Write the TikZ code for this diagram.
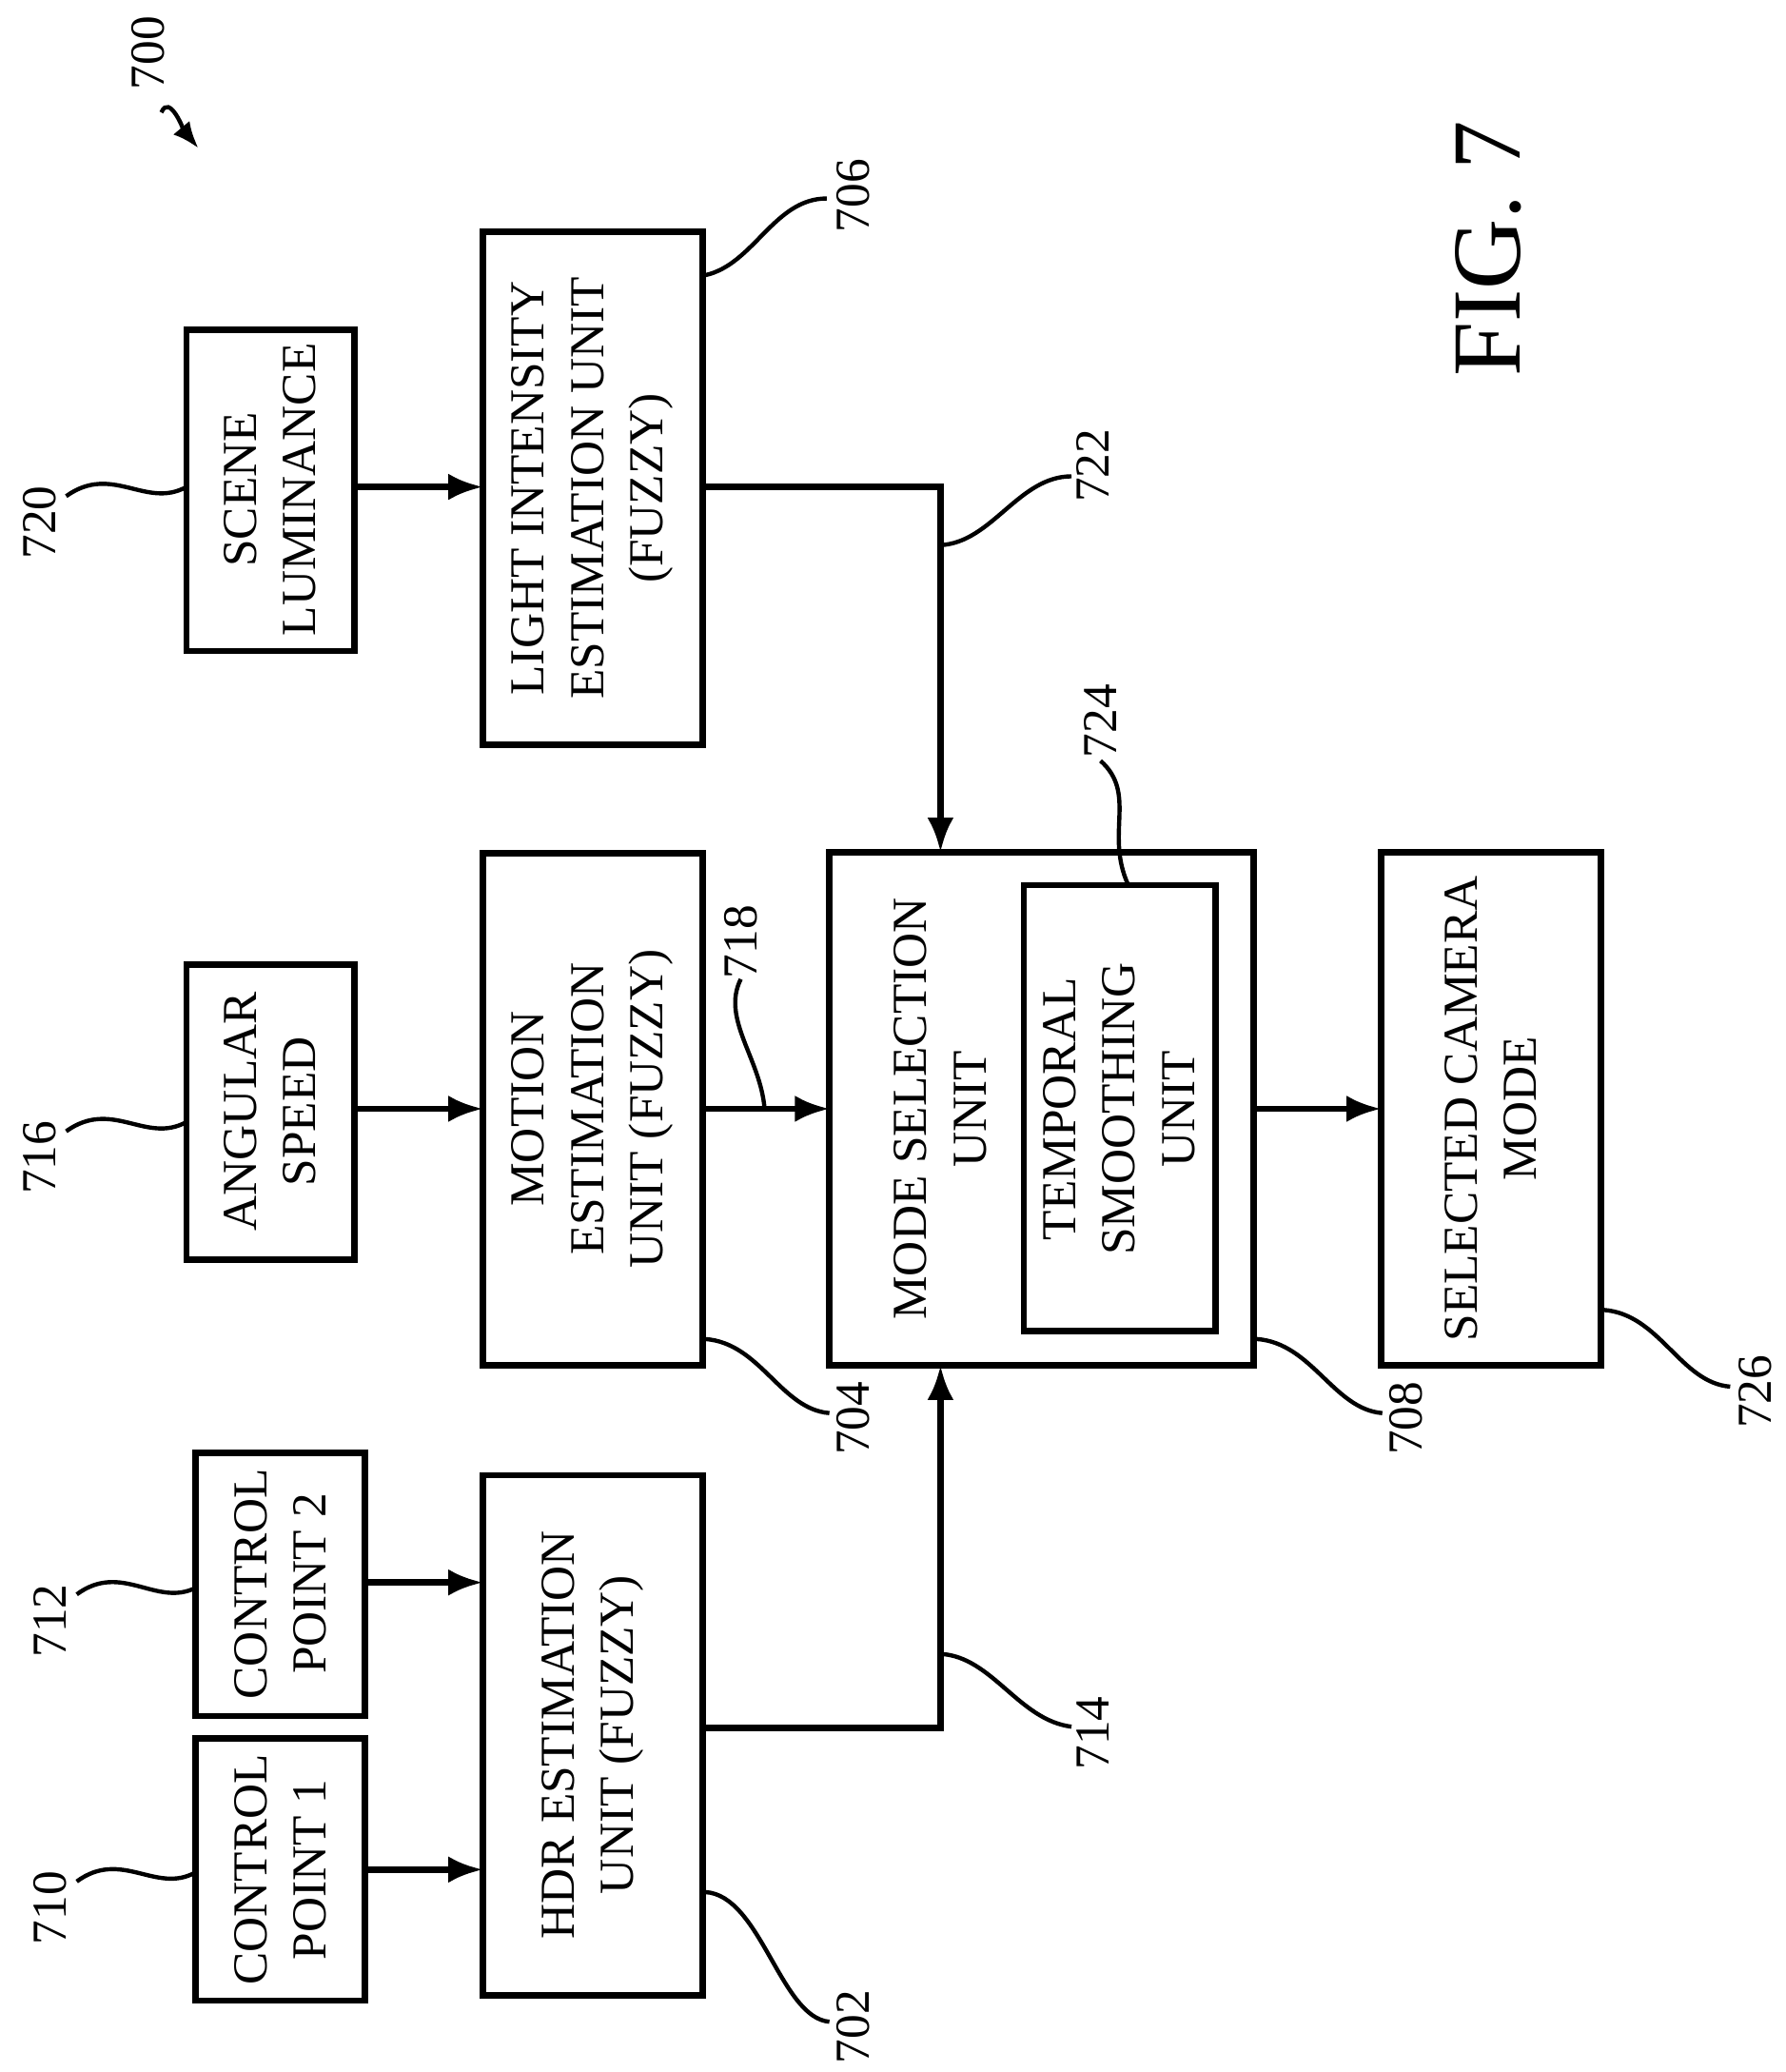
\documentclass[tikz,border=0pt]{standalone}
\usepackage{fontspec}
\setmainfont{Liberation Serif}
\usetikzlibrary{arrows.meta}
\tikzset{
  blk/.style={draw,line width=1.4pt,inner sep=0pt},
  txt/.style={rotate=90,align=center,font=\fontsize{10.5}{12.8}\selectfont},
  num/.style={rotate=90,font=\fontsize{10.5}{12}\selectfont},
  flow/.style={line width=1.3pt,-{Latex[length=2.6mm,width=2mm]}},
  lead/.style={line width=0.9pt}
}
\begin{document}
\begin{tikzpicture}[x=0.01cm,y=-0.01cm]
\useasboundingbox (0,0) rectangle (1350,1566);

% boxes
\draw[blk] (141,249) rectangle (268,492);
\node[txt] (scene) at (204,370) {SCENE\\LUMINANCE};
\draw[blk] (365,175) rectangle (531,563);
\node[txt] (light) at (448,369) {LIGHT INTENSITY\\ESTIMATION UNIT\\(FUZZY)};
\draw[blk] (141,729) rectangle (268,952);
\node[txt] (ang) at (204,840) {ANGULAR\\SPEED};
\draw[blk] (365,645) rectangle (531,1032);
\node[txt] (motion) at (448,838) {MOTION\\ESTIMATION\\UNIT (FUZZY)};
\draw[blk] (148,1098) rectangle (276,1297);
\node[txt] (cp2) at (212,1197) {CONTROL\\POINT 2};
\draw[blk] (148,1314) rectangle (276,1512);
\node[txt] (cp1) at (212,1413) {CONTROL\\POINT 1};
\draw[blk] (365,1115) rectangle (531,1508);
\node[txt] (hdr) at (448,1311) {HDR ESTIMATION\\UNIT (FUZZY)};
\draw[blk] (627,644) rectangle (948,1032);
\node[txt] (mode) at (711,838) {MODE SELECTION\\UNIT};
\draw[blk] (774,669) rectangle (919,1006);
\node[txt] (temp) at (846,838) {TEMPORAL\\SMOOTHING\\UNIT};
\draw[blk] (1044,644) rectangle (1210,1032);
\node[txt] (sel) at (1127,838) {SELECTED CAMERA\\MODE};

% connectors
\coordinate (sceneE) at (268,368); \coordinate (lightW) at (365,368);
\coordinate (lightE) at (531,368); \coordinate (modeN) at (711,644);
\coordinate (angE) at (268,838); \coordinate (motW) at (365,838);
\coordinate (motE) at (531,838); \coordinate (modeW) at (627,838);
\coordinate (cp2E) at (276,1196); \coordinate (hdrW2) at (365,1196);
\coordinate (cp1E) at (276,1413); \coordinate (hdrW1) at (365,1413);
\coordinate (hdrE) at (531,1306); \coordinate (modeS) at (711,1032);
\coordinate (modeE) at (948,838); \coordinate (selW) at (1044,838);
\draw[flow] (sceneE) -- (lightW);
\draw[flow] (lightE) -| (modeN);
\draw[flow] (angE) -- (motW);
\draw[flow] (motE) -- (modeW);
\draw[flow] (cp2E) -- (hdrW2);
\draw[flow] (cp1E) -- (hdrW1);
\draw[flow] (hdrE) -| (modeS);
\draw[flow] (modeE) -- (selW);

% reference numerals
\node[num] (n700) at (112,40) {700};
\draw[lead,-{Latex[length=2mm,width=1.6mm]}] (122,85) .. controls (128,70) and (140,100) .. (150,112);
\node[num] (n720) at (30,395) {720};
\draw[lead] (50,375) .. controls (85,350) and (110,385) .. (141,368);
\node[num] (n716) at (30,875) {716};
\draw[lead] (50,855) .. controls (85,830) and (110,865) .. (141,848);
\node[num] (n712) at (38,1225) {712};
\draw[lead] (58,1205) .. controls (92,1180) and (118,1215) .. (148,1200);
\node[num] (n710) at (38,1442) {710};
\draw[lead] (58,1422) .. controls (92,1397) and (118,1432) .. (148,1415);
\node[num] (n706) at (645,148) {706};
\draw[lead] (533,208) .. controls (570,200) and (585,150) .. (625,150);
\node[num] (n722) at (826,352) {722};
\draw[lead] (711,412) .. controls (750,410) and (770,360) .. (810,360);
\node[num] (n718) at (560,712) {718};
\draw[lead] (578,838) .. controls (575,800) and (545,770) .. (560,740);
\node[num] (n724) at (832,545) {724};
\draw[lead] (853,669) .. controls (835,630) and (860,600) .. (832,575);
\node[num] (n704) at (645,1072) {704};
\draw[lead] (533,1012) .. controls (575,1015) and (590,1065) .. (627,1068);
\node[num] (n708) at (1063,1072) {708};
\draw[lead] (950,1012) .. controls (992,1015) and (1008,1065) .. (1045,1068);
\node[num] (n726) at (1327,1052) {726};
\draw[lead] (1212,990) .. controls (1255,993) and (1270,1045) .. (1308,1048);
\node[num] (n714) at (826,1310) {714};
\draw[lead] (711,1250) .. controls (750,1252) and (770,1300) .. (810,1305);
\node[num] (n702) at (645,1532) {702};
\draw[lead] (533,1430) .. controls (575,1432) and (590,1525) .. (627,1528);

\node[rotate=90,font=\fontsize{21}{24}\selectfont] (fig) at (1125,188) {FIG. 7};
\end{tikzpicture}
\end{document}
